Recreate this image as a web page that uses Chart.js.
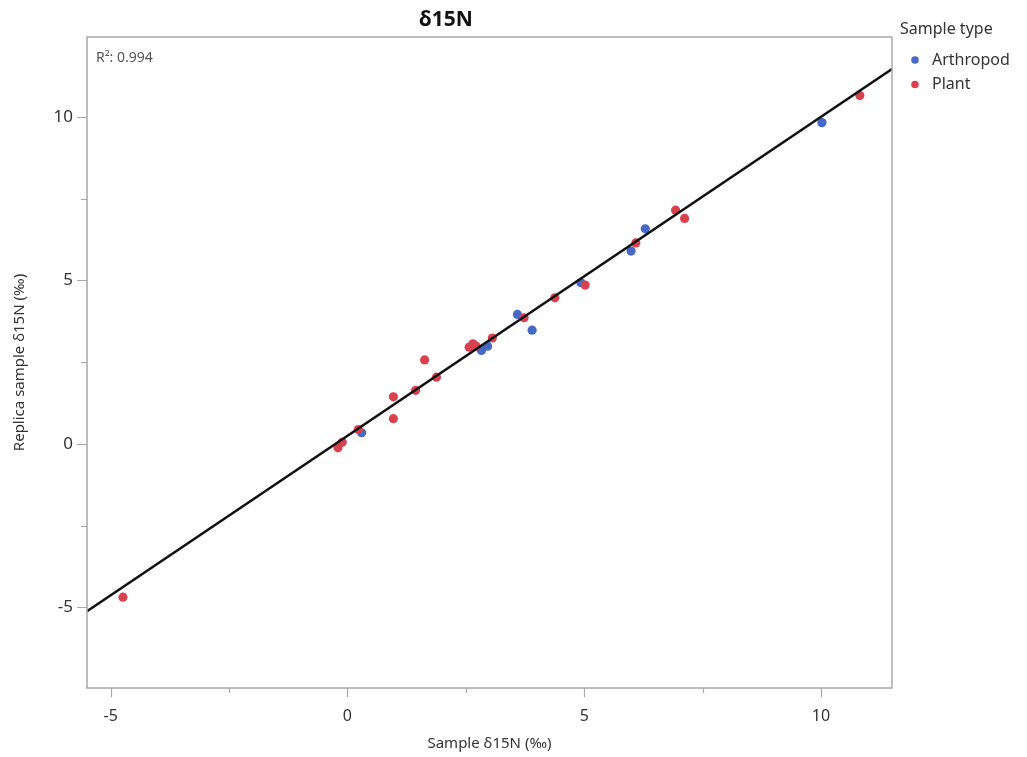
<!DOCTYPE html>
<html>
<head>
<meta charset="utf-8">
<script src="https://cdn.jsdelivr.net/npm/chart.js@4/dist/chart.umd.min.js"></script>
<style>
  html, body { margin: 0; background: #fff; }
  #wrap { width: 1027px; height: 757px; }
</style>
</head>
<body>
<div id="wrap"><canvas id="chart"></canvas></div>
<script>
// 値は画像から読み取り
const arthropodX = [0.30, 2.83, 2.96, 3.59, 3.90, 4.93, 5.99, 6.29, 10.02];
const arthropodY = [0.34, 2.86, 2.99, 3.96, 3.48, 4.93, 5.90, 6.58, 9.83];
const plantX = [-4.74, -0.20, -0.11, 0.23, 0.97, 0.97, 1.44, 1.63, 1.88, 2.57, 2.65, 2.72, 3.06, 3.73, 4.38, 5.02, 6.09, 6.93, 7.12, 10.82];
const plantY = [-4.69, -0.12, 0.05, 0.44, 1.44, 0.77, 1.64, 2.57, 2.04, 2.96, 3.06, 2.99, 3.24, 3.86, 4.47, 4.86, 6.15, 7.15, 6.90, 10.66];
const fitX = [-5.5, 11.5];
const fitY = [-5.12, 11.47];
const xTicks = [-5, -2.5, 0, 2.5, 5, 7.5, 10];
const yTicks = [-5, -2.5, 0, 2.5, 5, 7.5, 10];
const legendLabels = ['Arthropod', 'Plant'];
const rSquared = '0.994';

const FONT = '"Noto Sans", "Open Sans", sans-serif';
const BLUE = '#4669c6';
const RED = '#d8424f';
const AXIS = '#a8a8a8';

const toPts = (xs, ys) => xs.map((x, i) => ({ x, y: ys[i] }));

// 枠・目盛り・タイトル・凡例を描く
const decorations = {
  id: 'decorations',
  afterDraw(chart) {
    const { ctx, chartArea: a, scales } = chart;
    ctx.save();
    ctx.strokeStyle = AXIS;
    ctx.lineWidth = 1.5;
    ctx.strokeRect(a.left, a.top, a.right - a.left, a.bottom - a.top);

    ctx.lineWidth = 1.2;
    ctx.beginPath();
    xTicks.forEach((v) => {
      const px = Math.round(scales.x.getPixelForValue(v)) + 0.5;
      const len = v % 5 === 0 ? 9 : 5;
      ctx.moveTo(px, a.bottom);
      ctx.lineTo(px, a.bottom + len);
    });
    yTicks.forEach((v) => {
      const py = Math.round(scales.y.getPixelForValue(v)) + 0.5;
      const len = v % 5 === 0 ? 10 : 6;
      ctx.moveTo(a.left, py);
      ctx.lineTo(a.left - len, py);
    });
    ctx.stroke();

    // タイトル
    ctx.fillStyle = '#111';
    ctx.font = 'bold 21px ' + FONT;
    ctx.textAlign = 'center';
    ctx.textBaseline = 'middle';
    ctx.fillText('δ15N', 446, 20);

    // R²
    ctx.fillStyle = '#555';
    ctx.font = '14px ' + FONT;
    ctx.textAlign = 'left';
    ctx.fillText('R²: ' + rSquared, a.left + 9, a.top + 21);

    // 凡例
    ctx.fillStyle = '#333';
    ctx.font = '16px ' + FONT;
    ctx.fillText('Sample type', a.right + 8, 29);
    legendLabels.forEach((name, i) => {
      const d = chart.data.datasets.find((ds) => ds.label === name);
      const y = 60 + i * 24.5;
      ctx.fillStyle = d.backgroundColor;
      ctx.beginPath();
      ctx.arc(a.right + 23, y, 3.8, 0, Math.PI * 2);
      ctx.fill();
      ctx.fillStyle = '#333';
      ctx.fillText(d.label, a.right + 40, y);
    });
    ctx.restore();
  },
};

new Chart(document.getElementById('chart'), {
  type: 'scatter',
  data: {
    datasets: [
      {
        label: 'fit',
        type: 'line',
        data: toPts(fitX, fitY),
        borderColor: '#111',
        borderWidth: 2.6,
        pointRadius: 0,
        fill: false,
        order: 0,
      },
      {
        label: 'Plant',
        data: toPts(plantX, plantY),
        backgroundColor: RED,
        borderWidth: 0,
        pointRadius: 4.6,
        order: 1,
      },
      {
        label: 'Arthropod',
        data: toPts(arthropodX, arthropodY),
        backgroundColor: BLUE,
        borderWidth: 0,
        pointRadius: 4.6,
        order: 2,
      },
    ],
  },
  options: {
    responsive: true,
    maintainAspectRatio: false,
    animation: false,
    layout: { padding: { top: 37, right: 135, bottom: 4, left: 11 } },
    plugins: {
      legend: { display: false },
      tooltip: { enabled: false },
    },
    scales: {
      x: {
        type: 'linear',
        min: -5.5,
        max: 11.5,
        afterBuildTicks: (s) => { s.ticks = xTicks.map((value) => ({ value })); },
        afterFit: (s) => { s.height = 757 - 688 - 4; },
        grid: { display: false, drawTicks: false },
        border: { display: false },
        ticks: {
          padding: 19,
          autoSkip: false,
          maxRotation: 0,
          color: '#333',
          font: { family: FONT, size: 16 },
          callback: (v) => (v % 5 === 0 ? String(v) : ''),
        },
        title: {
          display: true,
          text: 'Sample δ15N (‰)',
          color: '#333',
          font: { family: FONT, size: 15 },
          padding: { top: 0, bottom: 0 },
        },
      },
      y: {
        type: 'linear',
        min: -7.47,
        max: 12.45,
        afterBuildTicks: (s) => { s.ticks = yTicks.map((value) => ({ value })); },
        afterFit: (s) => { s.width = 87 - 11; },
        grid: { display: false, drawTicks: false },
        border: { display: false },
        ticks: {
          padding: 14,
          autoSkip: false,
          color: '#333',
          font: { family: FONT, size: 17 },
          callback: (v) => (v % 5 === 0 ? String(v) : ''),
        },
        title: {
          display: true,
          text: 'Replica sample δ15N (‰)',
          color: '#333',
          font: { family: FONT, size: 15 },
          padding: { top: 0, bottom: 0 },
        },
      },
    },
  },
  plugins: [decorations],
});
</script>
</body>
</html>
